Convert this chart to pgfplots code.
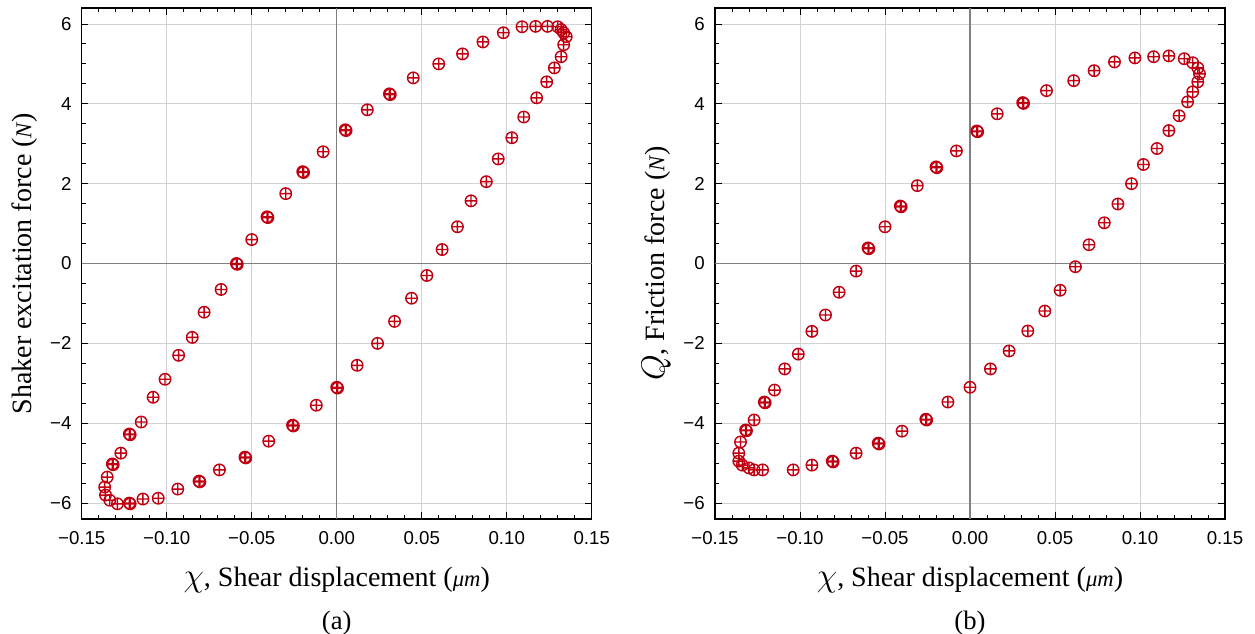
\documentclass[border=0pt]{standalone}
\usepackage{fontspec}
\setmainfont{Liberation Serif}
\setsansfont{Liberation Sans}
\usepackage{pgfplots}
\pgfplotsset{compat=1.18}

\definecolor{mk}{HTML}{C00010}
\definecolor{gridc}{HTML}{D2D2D2}
\definecolor{zeroc}{HTML}{808080}

% shaker excitation loop (a)
\pgfplotstableread{
x y
-0.122 -6.00
-0.114 -5.90
-0.105 -5.88
-0.0935 -5.65
-0.081 -5.45
-0.069 -5.17
-0.054 -4.85
-0.040 -4.45
-0.026 -4.05
-0.012 -3.55
0.000 -3.10
0.012 -2.55
0.024 -2.00
0.034 -1.45
0.044 -0.87
0.053 -0.30
0.062 0.35
0.071 0.92
0.079 1.57
0.088 2.05
0.095 2.62
0.103 3.15
0.110 3.67
0.1176 4.15
0.1235 4.55
0.128 4.90
0.132 5.18
0.1335 5.48
0.135 5.68
0.1335 5.78
0.132 5.86
0.130 5.93
0.124 5.94
0.117 5.94
0.109 5.93
0.098 5.78
0.086 5.55
0.074 5.25
0.060 5.00
0.045 4.65
0.031 4.25
0.018 3.85
0.005 3.35
-0.008 2.80
-0.020 2.30
-0.030 1.75
-0.041 1.17
-0.050 0.60
-0.059 0.00
-0.068 -0.65
-0.078 -1.22
-0.085 -1.85
-0.093 -2.30
-0.101 -2.90
-0.108 -3.35
-0.115 -3.97
-0.122 -4.27
-0.127 -4.75
-0.132 -5.02
-0.135 -5.35
-0.1365 -5.60
-0.136 -5.80
-0.1335 -5.93
-0.129 -6.02
}\shaker

% repeated samples (drawn twice in the source)
\pgfplotstableread{
x y
-0.1215 -4.29
-0.1315 -5.04
-0.1215 -6.02
-0.0805 -5.47
-0.0535 -4.87
-0.0255 -4.07
0.0005 -3.12
-0.0585 -0.02
-0.0405 1.15
-0.0195 2.28
0.0055 3.33
0.0315 4.23
}\shakerdup

% friction force loop (b)
\pgfplotstableread{
x y
-0.122 -5.17
-0.104 -5.17
-0.093 -5.05
-0.081 -4.95
-0.067 -4.75
-0.054 -4.50
-0.040 -4.20
-0.026 -3.90
-0.013 -3.47
0.000 -3.10
0.012 -2.64
0.023 -2.19
0.034 -1.69
0.044 -1.19
0.053 -0.67
0.062 -0.08
0.070 0.47
0.079 1.02
0.087 1.49
0.095 2.00
0.102 2.48
0.110 2.88
0.117 3.33
0.123 3.70
0.128 4.05
0.131 4.30
0.134 4.55
0.135 4.75
0.134 4.90
0.131 5.03
0.126 5.13
0.117 5.20
0.108 5.18
0.097 5.15
0.085 5.05
0.073 4.83
0.061 4.58
0.045 4.33
0.031 4.03
0.016 3.75
0.004 3.32
-0.008 2.82
-0.020 2.42
-0.031 1.95
-0.041 1.44
-0.050 0.92
-0.060 0.39
-0.067 -0.19
-0.077 -0.72
-0.085 -1.29
-0.093 -1.70
-0.101 -2.27
-0.109 -2.64
-0.115 -3.17
-0.121 -3.47
-0.127 -3.92
-0.132 -4.17
-0.135 -4.47
-0.136 -4.75
-0.136 -4.95
-0.134 -5.05
-0.130 -5.12
-0.127 -5.17
}\friction

\pgfplotstableread{
x y
-0.1205 -3.49
-0.1315 -4.19
-0.0805 -4.97
-0.0535 -4.52
-0.0255 -3.92
-0.0595 0.37
-0.0405 1.42
-0.0195 2.40
0.0045 3.30
0.0315 4.01
}\frictiondup

\pgfplotsset{loopax/.style={
  scale only axis, width=382.5pt, height=383.25pt,
  xmin=-0.15, xmax=0.15, ymin=-6.4, ymax=6.4,
  clip=false,
  xtick={-0.15,-0.10,-0.05,0,0.05,0.10,0.15},
  xticklabels={−0.15,−0.10,−0.05,0.00,0.05,0.10,0.15},
  ytick={-6,-4,-2,0,2,4,6},
  yticklabels={−6,−4,−2,0,2,4,6},
  minor x tick num=4, minor y tick num=3,
  tick align=inside, major tick length=5pt, minor tick length=3pt,
  every tick/.style={black, line width=0.7pt},
  axis line style={line width=0.9pt},
  grid=major, major grid style={gridc, line width=0.7pt},
  tick label style={font=\sffamily\fontsize{14}{14}\selectfont, inner sep=0pt},
  xticklabel shift=9pt, yticklabel shift=7.5pt,
}}
\pgfplotsset{pts/.style={only marks, mark=oplus, mark size=4.3pt,
  mark options={draw=mk, fill=none, line width=1.05pt}},
  dup/.style={only marks, mark=oplus, mark size=4.3pt,
  mark options={draw=mk, fill=mk!75, line width=1.05pt}}}

\begin{document}
\begin{tikzpicture}
\begin{axis}[loopax, at={(61.3pt,85.5pt)}, anchor=south west]
\draw[zeroc, line width=0.8pt] (axis cs:0,-6.4) -- (axis cs:0,6.4);
\draw[zeroc, line width=0.8pt] (axis cs:-0.15,0) -- (axis cs:0.15,0);
\addplot[pts] table[x=x,y=y] {\shaker};
\addplot[dup] table[x=x,y=y] {\shakerdup};
\node[rotate=90, font=\fontsize{21}{24}\selectfont] at ([xshift=-43pt]rel axis cs:0,0.5)
  {Shaker excitation force ({\fontsize{17}{20}\selectfont\textit{N}})};
\node[font=\fontsize{21}{24}\selectfont] at ([yshift=-46pt]rel axis cs:0.5,0)
  {{\fontsize{27}{28}\selectfont$\chi$}, Shear displacement ({\fontsize{17}{20}\selectfont\textit{μm}})};
\node[font=\fontsize{20}{24}\selectfont] at ([yshift=-78pt]rel axis cs:0.5,0) {(a)};
\end{axis}

\begin{axis}[loopax, at={(536.25pt,85.5pt)}, anchor=south west]
\draw[zeroc, line width=0.8pt] (axis cs:0,-6.4) -- (axis cs:0,6.4);
\draw[zeroc, line width=0.8pt] (axis cs:-0.15,0) -- (axis cs:0.15,0);
\addplot[pts] table[x=x,y=y] {\friction};
\addplot[dup] table[x=x,y=y] {\frictiondup};
\node[rotate=90, font=\fontsize{21}{24}\selectfont] at ([xshift=-44pt]rel axis cs:0,0.5)
  {{\fontsize{25}{28}\selectfont$Q$}, Friction force ({\fontsize{17}{20}\selectfont\textit{N}})};
\node[font=\fontsize{21}{24}\selectfont] at ([yshift=-46pt]rel axis cs:0.5,0)
  {{\fontsize{27}{28}\selectfont$\chi$}, Shear displacement ({\fontsize{17}{20}\selectfont\textit{μm}})};
\node[font=\fontsize{20}{24}\selectfont] at ([yshift=-78pt]rel axis cs:0.5,0) {(b)};
\end{axis}
\pgfresetboundingbox
\useasboundingbox (0,0) rectangle (941.25pt,474.75pt);
\end{tikzpicture}
\end{document}
